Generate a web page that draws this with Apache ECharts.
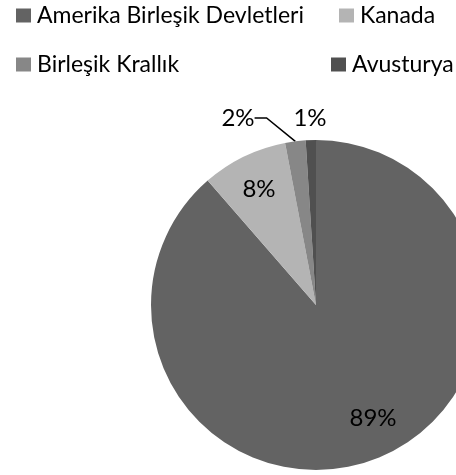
<!DOCTYPE html>
<html>
<head>
<meta charset="utf-8">
<script src="https://cdn.jsdelivr.net/npm/echarts@6/dist/echarts.min.js"></script>
<style>
  html, body { margin: 0; padding: 0; background: #fff; }
  #main { width: 456px; height: 475px; }
</style>
</head>
<body>
<div id="main"></div>
<script>
// ülkeler ve payları (%)
var countries = ['Amerika Birleşik Devletleri', 'Kanada', 'Birleşik Krallık', 'Avusturya']
var shares = [88.6, 8.4, 2.0, 1.0]
var colors = ['#636363', '#b4b4b4', '#878787', '#505050']

var myChart = echarts.init(document.getElementById('main'))

// etiketlerin yerleri (Excel çıktısına göre)
var labelPos = [
  { x: 373, y: 418 },
  { x: 259, y: 189 },
  { x: 238, y: 118 },
  { x: 310, y: 118 }
]

var font = 'Lato'

// her legend öğesi ayrı konumlanıyor
var legendPos = [
  { left: 11, top: -1 },
  { left: 334, top: -1 },
  { left: 11, top: 48 },
  { left: 326, top: 48 }
]
var legends = countries.map(function (name, i) {
  return {
    data: [name],
    left: legendPos[i].left,
    top: legendPos[i].top,
    itemWidth: 15,
    itemHeight: 14,
    icon: 'rect',
    selectedMode: false,
    textStyle: {
      fontFamily: font,
      fontSize: 23,
      color: '#000',
      padding: [0, 0, 0, 1]
    }
  }
})

var pieData = countries.map(function (name, i) {
  var outside = i >= 2
  return {
    name: name,
    value: shares[i],
    itemStyle: { color: colors[i] },
    label: { position: outside ? 'outside' : 'inside' },
    labelLine: { show: i === 2 }
  }
})

var option = {
  animation: false,
  legend: legends,
  series: [{
    type: 'pie',
    center: [316, 305],
    radius: 165,
    startAngle: 90,
    clockwise: true,
    avoidLabelOverlap: false,
    emphasis: { disabled: true },
    label: {
      show: true,
      fontFamily: font,
      fontSize: 24,
      color: '#000',
      formatter: function (p) {
        return Math.round(p.value) + '%'
      }
    },
    labelLine: {
      length2: 12,
      lineStyle: { color: '#000', width: 1.5 }
    },
    labelLayout: function (p) {
      var pos = labelPos[p.dataIndex]
      return { x: pos.x, y: pos.y, align: 'center', verticalAlign: 'middle' }
    },
    data: pieData
  }]
}
myChart.setOption(option, true)
</script>
</body>
</html>
